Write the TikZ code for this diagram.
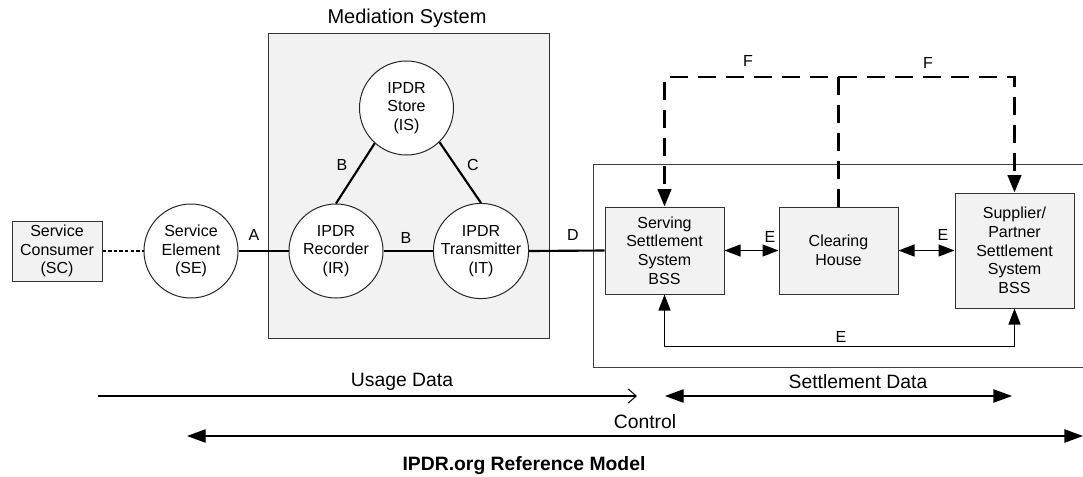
\documentclass[tikz,border=0pt]{standalone}
\usepackage{fontspec}
\setmainfont{Liberation Sans}
\usetikzlibrary{arrows.meta}
\tikzset{
  nfont/.style={font=\fontsize{12pt}{14pt}\selectfont},
  bigfont/.style={font=\fontsize{14.5pt}{17pt}\selectfont},
  graybox/.style={draw=black!80, line width=0.75pt, fill=black!5, inner sep=0pt, align=center, nfont},
  elem/.style={circle, draw=black!85, line width=0.75pt, fill=white, minimum size=70.5pt, inner sep=0pt, align=center, nfont},
  thickline/.style={line width=1.6pt},
  thinarrow/.style={line width=1pt, {Triangle[length=12pt,width=9pt]}-{Triangle[length=12pt,width=9pt]}},
  fline/.style={line width=2.2pt, dash pattern=on 13.5pt off 7.5pt, -{Triangle[length=13pt,width=10pt]}},
  lab/.style={nfont, inner sep=0pt},
}
\begin{document}
\begin{tikzpicture}[x=0.75pt, y=-0.75pt]
\useasboundingbox (0,0) rectangle (1083,476);

% Mediation system box
\node[draw=black!80, line width=0.75pt, fill=black!5, minimum width=210.75pt, minimum height=228.75pt, inner sep=0pt] (med) at (408.5,185.5) {};
\node[font=\fontsize{15pt}{18pt}\selectfont, anchor=base, inner sep=0pt] (medtitle) at (407,23) {Mediation System};

% Settlement frame
\draw[draw=black!75, line width=0.75pt] (593,164) rectangle (1100,367);

% Nodes
\node[graybox, minimum width=67.5pt, minimum height=45pt] (sc) at (57,251) {Service\\Consumer\\(SC)};
\node[elem] (se) at (191,251) {Service\\Element\\(SE)};
\node[elem] (is) at (406.5,108) {IPDR\\Store\\(IS)};
\node[elem] (ir) at (336,251) {IPDR\\Recorder\\(IR)};
\node[elem] (it) at (481,251) {IPDR\\Transmitter\\(IT)};

\node[graybox, minimum width=89.25pt, minimum height=65.25pt] (serv) at (664.5,250.5) {Serving\\Settlement\\System\\BSS};
\node[graybox, minimum width=89.25pt, minimum height=65.25pt] (clear) at (838.5,250.5) {Clearing\\House};
\node[graybox, minimum width=89.25pt, minimum height=86.25pt] (supp) at (1014.5,250.5) {Supplier/\\Partner\\Settlement\\System\\BSS};

% Connectors
\draw[line width=2.2pt, dash pattern=on 2.6pt off 1.6pt] (sc.east) -- (se.west);
\draw[thickline] (se.east) -- (ir.west);
\draw[thickline] (ir.east) -- (it.west);
\draw[thickline] (is.228) -- (ir.north);
\draw[thickline] (is.314) -- (it.north);
\draw[thickline] (it.east) -- (serv.west);

\node[lab] (la) at (254,235) {A};
\node[lab] (lb1) at (342,165) {B};
\node[lab] (lb2) at (406,238) {B};
\node[lab] (lc) at (473,165) {C};
\node[lab] (ld) at (573,235) {D};

\draw[thinarrow] (serv.east) -- (clear.west);
\draw[thinarrow] (clear.east) -- (supp.west);
\node[lab] (le1) at (770,237) {E};
\node[lab] (le2) at (943,235) {E};

\draw[thinarrow] (serv.south) -- ++(0,52) -| (supp.south);
\node[lab] (le3) at (841,337) {E};

\coordinate (ftop) at (838.5,77);
\draw[fline] (clear.north) -- (ftop) -| (serv.north);
\draw[fline] (ftop) -| (supp.north);
\node[lab] (lf1) at (748,61) {F};
\node[lab] (lf2) at (928,63) {F};

% Bottom arrows
\coordinate (u1) at (98,396);
\coordinate (u2) at (637,396);
\draw[line width=0.9pt, -{Straight Barb[length=6pt,width=10.5pt,line width=0.75pt]}] (u1) -- (u2);
\node[bigfont, anchor=base, inner sep=0pt] (ulab) at (402,386) {Usage Data};

\coordinate (s1) at (665,396);
\coordinate (s2) at (1012,396);
\draw[line width=1pt, {Triangle[length=14pt,width=10pt]}-{Triangle[length=14pt,width=10pt]}] (s1) -- (s2);
\node[bigfont, anchor=base, inner sep=0pt] (slab) at (858,388) {Settlement Data};

\coordinate (c1) at (187,436);
\coordinate (c2) at (1083,436);
\draw[line width=1pt, {Triangle[length=14pt,width=10pt]}-{Triangle[length=14pt,width=10pt]}] (c1) -- (c2);
\node[bigfont, anchor=base, inner sep=0pt] (clab) at (645,428) {Control};

\node[font=\fontsize{14.5pt}{17pt}\selectfont\bfseries, anchor=base, inner sep=0pt] (title) at (524,470) {IPDR.org Reference Model};
\end{tikzpicture}
\end{document}
